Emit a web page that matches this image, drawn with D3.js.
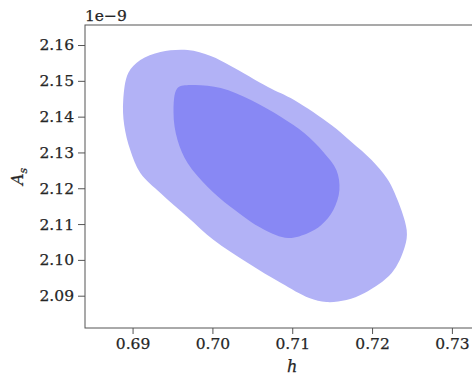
<!DOCTYPE html>
<html>
<head>
<meta charset="utf-8">
<script src="https://cdn.jsdelivr.net/npm/d3@7"></script>
<style>
  html, body { margin: 0; padding: 0; background: #fff; }
  svg { display: block; }
  text { font-family: "DejaVu Serif", serif; fill: #262626; stroke: #262626; stroke-width: 0.25px; }
</style>
</head>
<body>
<svg id="chart" width="472" height="383"></svg>
<script>
// Axis ticks (A_s in units of 1e-9)
const hTicks = [0.69, 0.70, 0.71, 0.72, 0.73];
const asTicks = [2.09, 2.10, 2.11, 2.12, 2.13, 2.14, 2.15, 2.16];

// 95% credible region boundary: [h, A_s/1e-9]
const outer95 = [
  [0.69097, 2.15581], [0.69349, 2.15804], [0.69689, 2.15860], [0.69979, 2.15693],
  [0.70230, 2.15413], [0.70696, 2.14827], [0.71024, 2.14464], [0.71490, 2.13765],
  [0.71742, 2.13291], [0.71994, 2.12788], [0.72183, 2.12285], [0.72283, 2.11866],
  [0.72434, 2.10832], [0.72409, 2.10358], [0.72246, 2.09631], [0.71906, 2.09073],
  [0.71679, 2.08877], [0.71427, 2.08821], [0.71213, 2.08933], [0.70860, 2.09352],
  [0.70445, 2.09911], [0.70016, 2.10553], [0.69689, 2.11196], [0.69349, 2.11866],
  [0.69097, 2.12425], [0.68971, 2.13067], [0.68895, 2.13765], [0.68883, 2.14464],
  [0.68946, 2.15218]
];

// 68% credible region boundary: [h, A_s/1e-9]
const inner68 = [
  [0.69563, 2.14799], [0.69727, 2.14883], [0.70105, 2.14799], [0.70482, 2.14464],
  [0.70860, 2.13989], [0.71150, 2.13542], [0.71389, 2.13011], [0.71553, 2.12508],
  [0.71591, 2.11950], [0.71515, 2.11391], [0.71364, 2.10972], [0.71200, 2.10749],
  [0.70948, 2.10609], [0.70633, 2.10860], [0.70230, 2.11475], [0.69941, 2.12034],
  [0.69689, 2.12704], [0.69563, 2.13346], [0.69513, 2.14101]
];

const svg = d3.select("#chart");
const m = { left: 85, right: 476, top: 25, bottom: 328 };

const x = d3.scaleLinear().domain([0.68404, 0.73302]).range([m.left, m.right]);
const y = d3.scaleLinear().domain([2.08098, 2.16559]).range([m.bottom, m.top]);

const plot = svg.append("g");
plot.append("clipPath").attr("id", "clip")
  .append("rect").attr("x", m.left).attr("y", m.top)
  .attr("width", m.right - m.left).attr("height", m.bottom - m.top);

const area = d3.line()
  .x(d => x(d[0])).y(d => y(d[1]))
  .curve(d3.curveCatmullRomClosed.alpha(0.5));

const regions = plot.append("g").attr("clip-path", "url(#clip)");
regions.append("path").attr("d", area(outer95)).attr("fill", "#b2b2f6");
regions.append("path").attr("d", area(inner68)).attr("fill", "#8888f4");

// Axes
const xAxis = d3.axisBottom(x).tickValues(hTicks).tickFormat(d3.format(".2f"))
  .tickSize(6).tickPadding(4);
const yAxis = d3.axisLeft(y).tickValues(asTicks).tickFormat(d3.format(".2f"))
  .tickSize(7).tickPadding(4);

const gx = svg.append("g").attr("transform", `translate(0,${m.bottom})`).call(xAxis);
const gy = svg.append("g").attr("transform", `translate(${m.left},0)`).call(yAxis);
[gx, gy].forEach(g => {
  g.select(".domain").remove();
  g.selectAll(".tick line").attr("stroke", "#555").attr("stroke-width", 1);
  g.selectAll(".tick text").style("font-family", "DejaVu Serif").style("font-size", "15.5px")
    .attr("fill", "#262626");
});

// Frame
svg.append("rect").attr("x", m.left).attr("y", m.top)
  .attr("width", m.right - m.left).attr("height", m.bottom - m.top)
  .attr("fill", "none").attr("stroke", "#555").attr("stroke-width", 1);

// Labels
svg.append("text").attr("x", x(0.71)).attr("y", 372)
  .attr("text-anchor", "middle").style("font-size", "16px").style("font-style", "italic")
  .text("h");

const yl = svg.append("text")
  .attr("transform", `translate(23,${(m.top + m.bottom) / 2}) rotate(-90)`)
  .attr("text-anchor", "middle").style("font-size", "16px").style("font-style", "italic");
yl.append("tspan").text("A");
yl.append("tspan").attr("dy", 4).style("font-size", "11px").text("s");

svg.append("text").attr("x", m.left).attr("y", 21)
  .style("font-size", "15.5px").text("1e\u22129");
</script>
</body>
</html>
